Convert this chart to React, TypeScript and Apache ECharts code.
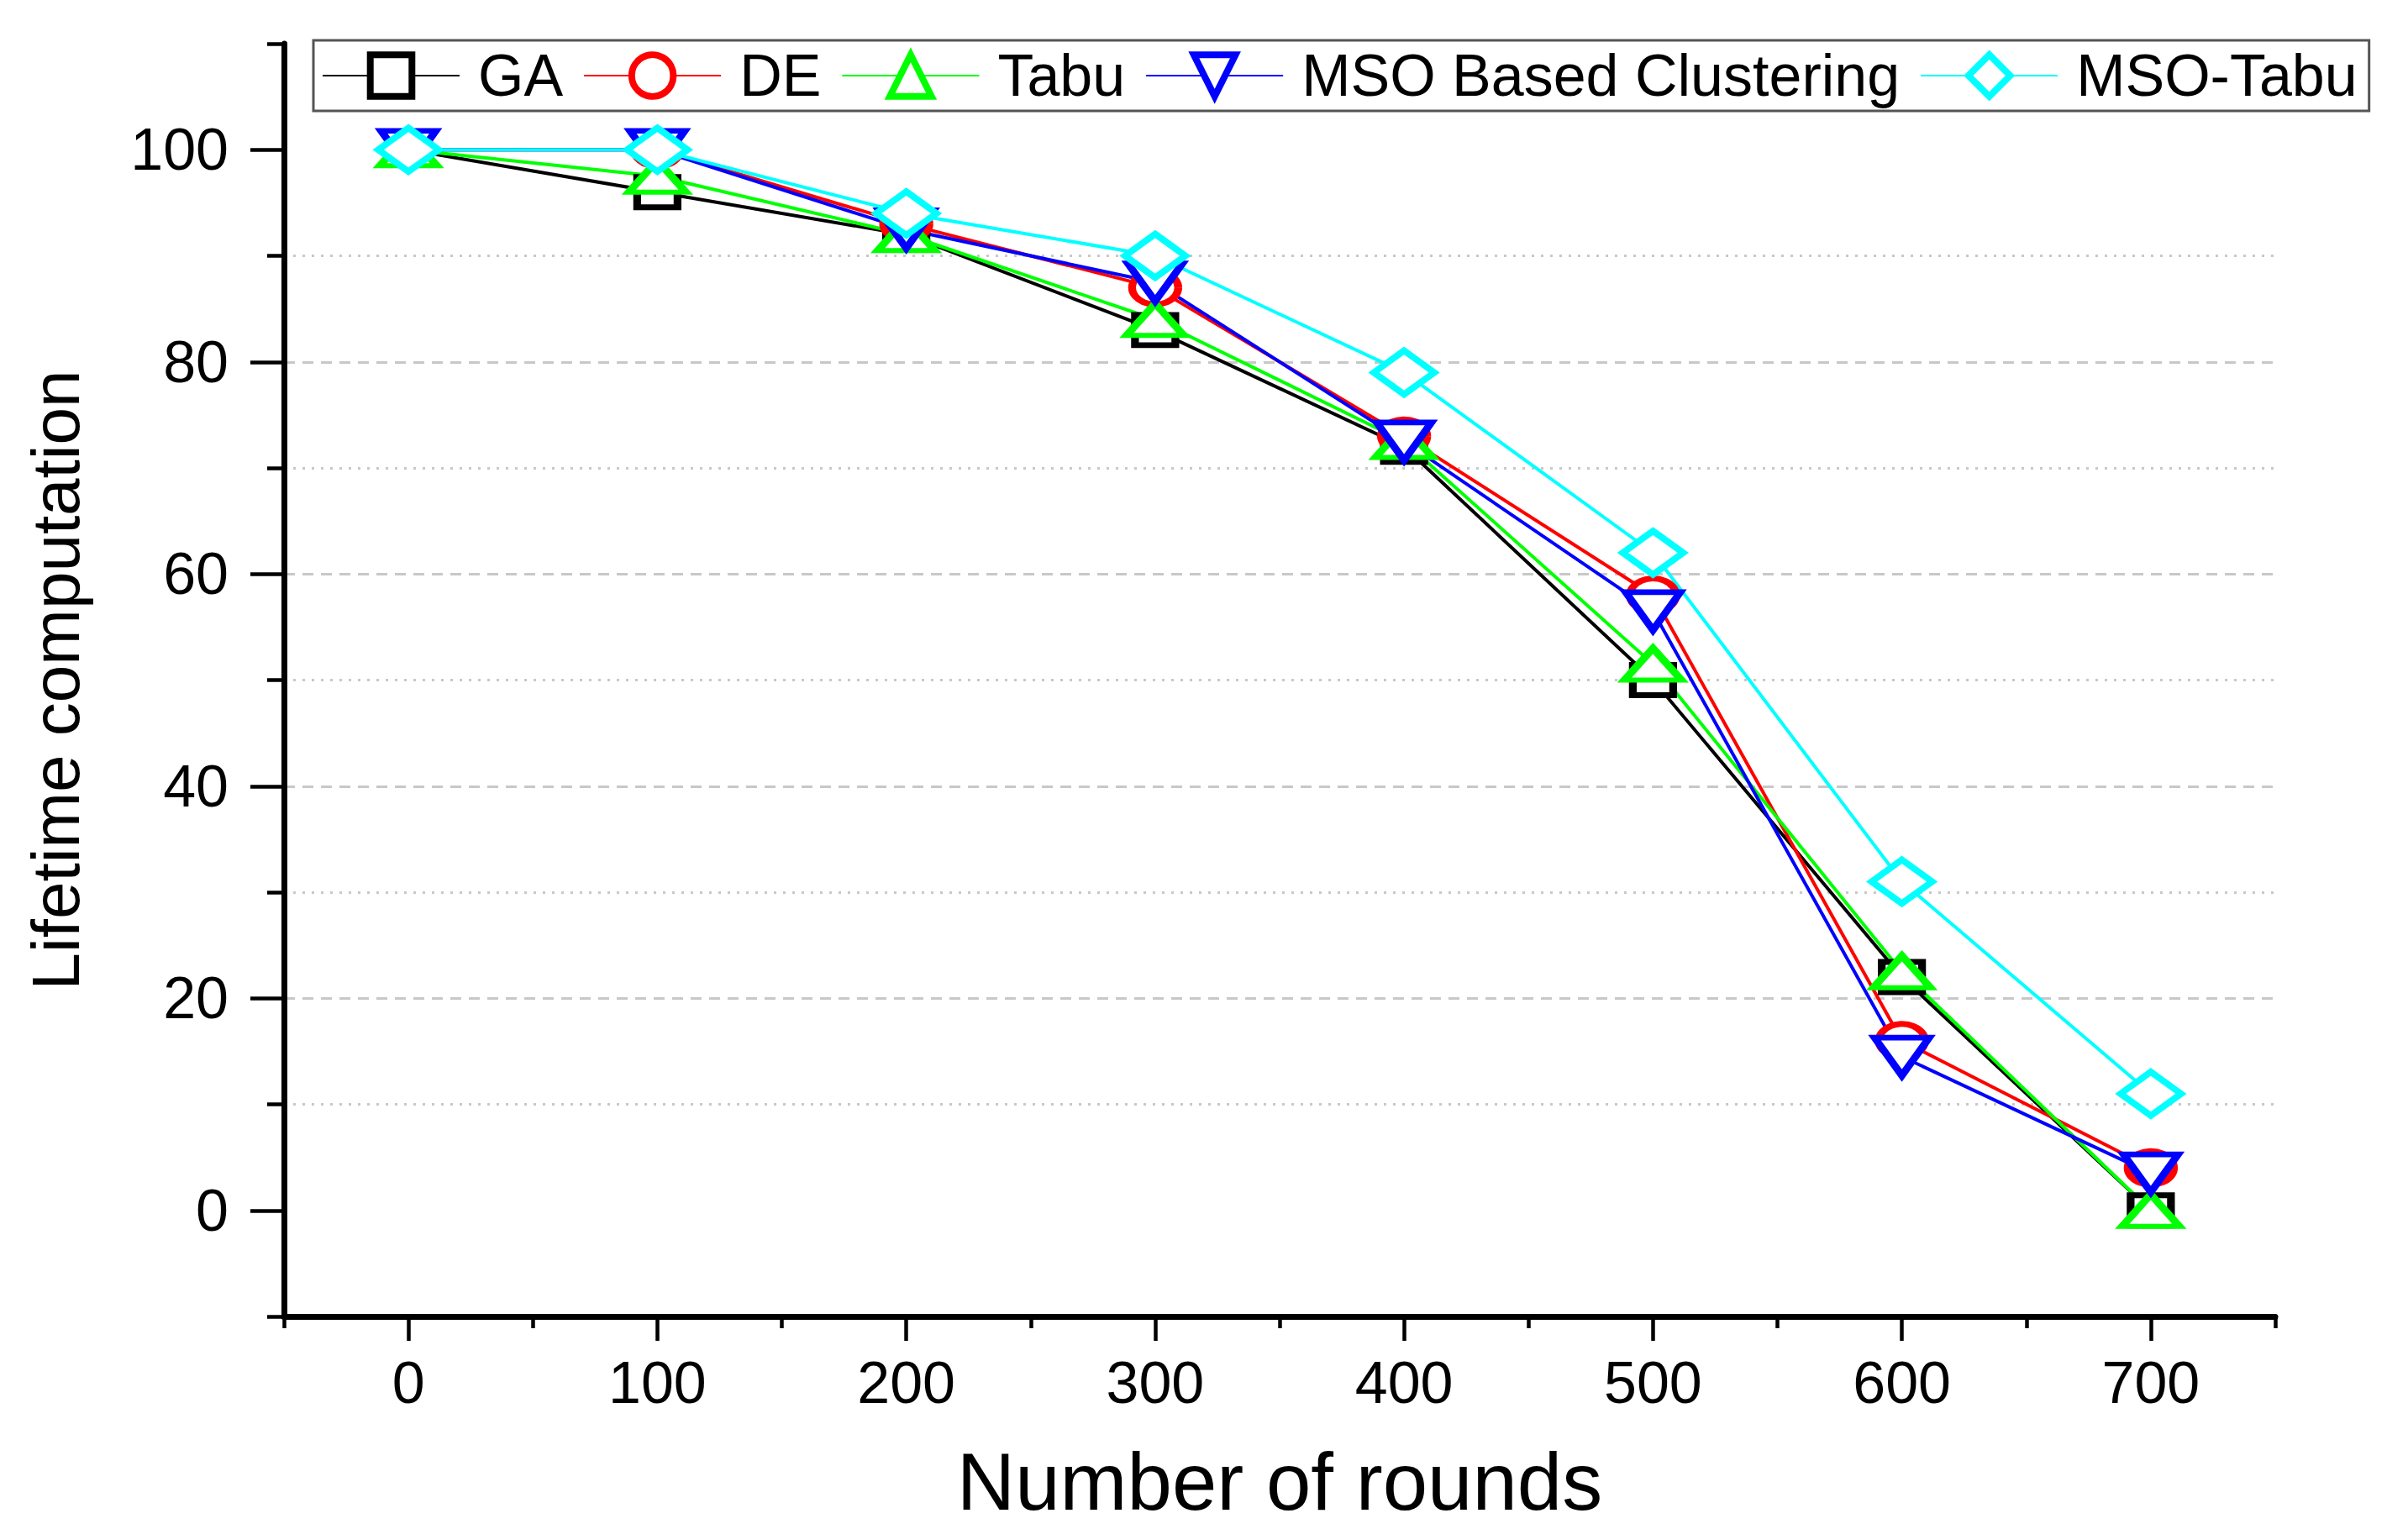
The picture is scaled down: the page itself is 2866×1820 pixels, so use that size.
import React, { useEffect, useRef } from "react";
import * as echarts from "echarts";

const rounds = [0, 100, 200, 300, 400, 500, 600, 700];
const gaValues = [100, 96, 92, 83, 72, 50, 22, 0];
const deValues = [100, 100, 93, 87, 73, 58, 16, 4];
const tabuValues = [100, 97.5, 92, 84, 72.5, 51.5, 22.5, 0];
const msoValues = [100, 100, 92.5, 87.5, 72.5, 56.5, 14.5, 3.5];
const msoTabuValues = [100, 100, 94, 90, 79, 62, 31, 11];

const seriesNames = ["GA", "DE", "Tabu", "MSO Based Clustering", "MSO-Tabu"];
const xMajorTicks = [0, 100, 200, 300, 400, 500, 600, 700];
const yMajorTicks = [0, 20, 40, 60, 80, 100];

const FONT = "Liberation Sans, Arial, Helvetica, sans-serif";

function makeSeries(
  name: string,
  values: number[],
  color: string,
  symbol: string,
  size: number[],
  rotate = 0
) {
  return {
    type: "line",
    name,
    data: rounds.map((r, i) => [r, values[i]]),
    xAxisIndex: 0,
    yAxisIndex: 0,
    symbol,
    symbolSize: size,
    symbolRotate: rotate,
    showAllSymbol: true,
    lineStyle: { color, width: 4 },
    itemStyle: { color: "#ffffff", borderColor: color, borderWidth: 8 },
    emphasis: { disabled: true },
    z: 3,
  };
}

export default function App() {
  const ref = useRef<HTMLDivElement | null>(null);

  useEffect(() => {
    if (!ref.current) return;
    const chart = echarts.init(ref.current, null, { renderer: "svg" });
    const option = {
      animation: false,
      backgroundColor: "#ffffff",
      grid: { left: 338, right: 158, top: 52, bottom: 253, containLabel: false },
      legend: {
        data: seriesNames,
        left: 373,
        top: 48,
        orient: "horizontal",
        padding: [7, 14, 7, 10],
        itemWidth: 163,
        itemHeight: 62,
        itemGap: 24,
        borderColor: "#555555",
        borderWidth: 3,
        backgroundColor: "#ffffff",
        itemStyle: { borderWidth: 8 },
        textStyle: {
          fontFamily: FONT,
          fontSize: 70,
          color: "#000000",
          padding: [0, 0, 0, 17],
        },
        selectedMode: false,
      },
      xAxis: [
        {
          type: "value",
          min: -50,
          max: 750,
          position: "bottom",
          name: "Number of rounds",
          nameLocation: "middle",
          nameGap: 148,
          nameTextStyle: { fontFamily: FONT, fontSize: 96, color: "#000000" },
          axisLine: { show: true, onZero: false, lineStyle: { color: "#000000", width: 7 } },
          axisTick: {
            show: true,
            customValues: xMajorTicks,
            length: 29,
            lineStyle: { color: "#000000", width: 4.5 },
          },
          axisLabel: {
            customValues: xMajorTicks,
            fontFamily: FONT,
            fontSize: 70,
            color: "#000000",
            margin: 44,
          },
          splitLine: { show: false },
        },
        {
          type: "value",
          min: -50,
          max: 750,
          interval: 100,
          position: "bottom",
          axisLine: { show: false, onZero: false },
          axisTick: { show: true, length: 14, lineStyle: { color: "#000000", width: 4.5 } },
          axisLabel: { show: false },
          splitLine: { show: false },
        },
      ],
      yAxis: [
        {
          type: "value",
          min: -10,
          max: 110,
          position: "left",
          name: "Lifetime computation",
          nameLocation: "middle",
          nameGap: 232,
          nameRotate: 90,
          nameTextStyle: { fontFamily: FONT, fontSize: 80, color: "#000000" },
          axisLine: { show: true, onZero: false, lineStyle: { color: "#000000", width: 7 } },
          axisTick: {
            show: true,
            customValues: yMajorTicks,
            length: 40,
            lineStyle: { color: "#000000", width: 4.5 },
          },
          axisLabel: {
            customValues: yMajorTicks,
            fontFamily: FONT,
            fontSize: 70,
            color: "#000000",
            margin: 66,
          },
          splitLine: {
            show: true,
            showMinLine: false,
            showMaxLine: false,
            lineStyle: { color: "#c8c8c8", width: 3, type: [13, 9] },
          },
        },
        {
          type: "value",
          min: -10,
          max: 110,
          interval: 20,
          position: "left",
          axisLine: { show: false, onZero: false },
          axisTick: { show: true, length: 20, lineStyle: { color: "#000000", width: 4.5 } },
          axisLabel: { show: false },
          splitLine: {
            show: true,
            showMinLine: false,
            showMaxLine: false,
            lineStyle: { color: "#c8c8c8", width: 3, type: [3, 8] },
          },
        },
      ],
      series: [
        makeSeries(seriesNames[0], gaValues, "#000000", "rect", [48, 36]),
        makeSeries(seriesNames[1], deValues, "#ff0000", "circle", [55, 40]),
        makeSeries(seriesNames[2], tabuValues, "#00ff00", "triangle", [68, 38]),
        makeSeries(seriesNames[3], msoValues, "#0000ff", "triangle", [65, 45], 180),
        makeSeries(seriesNames[4], msoTabuValues, "#00ffff", "diamond", [72, 52]),
      ],
    };
    chart.setOption(option as any);
    return () => {
      chart.dispose();
    };
  }, []);

  return (
    <div
      ref={ref}
      style={{ position: "absolute", left: 0, top: 0, width: 2866, height: 1820, background: "#fff" }}
    />
  );
}
